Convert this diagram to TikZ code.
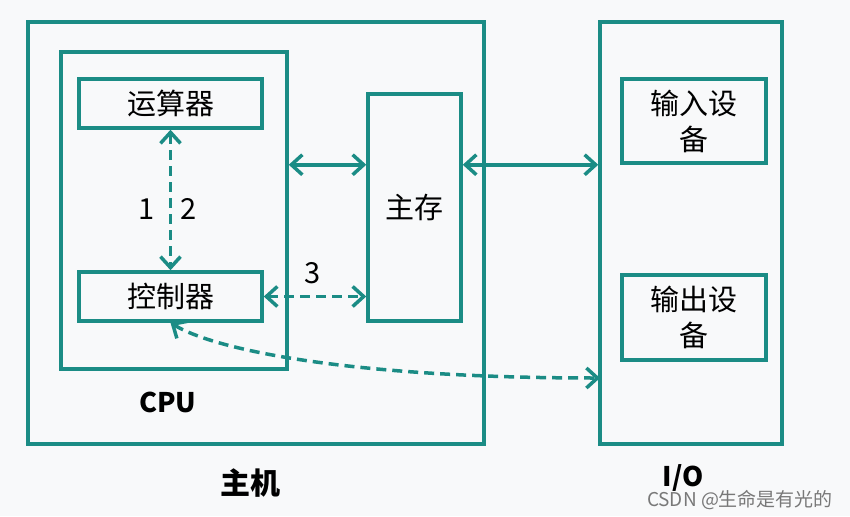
\documentclass[tikz,border=0pt]{standalone}
\usepackage{fontspec}
\setmainfont{Noto Sans CJK SC}
\usepackage{xcolor}
\usetikzlibrary{arrows.meta,positioning}
\definecolor{busteal}{RGB}{27,140,133}
\definecolor{pagebg}{RGB}{248,249,250}
\definecolor{markgray}{RGB}{120,120,120}

\begin{document}
\begin{tikzpicture}[
    x=1pt, y=-1pt,
    unit box/.style={draw=busteal, line width=3.5pt, rectangle, inner sep=0pt,
        align=center, font=\fontsize{29}{36}\selectfont},
    link/.style={busteal, line width=3.5pt, {Straight Barb[length=11pt,width=20pt]}-{Straight Barb[length=11pt,width=20pt]}},
    ctrl link/.style={link, dash pattern=on 10pt off 6pt},
    num label/.style={font=\fontsize{29}{32}\selectfont},
    box title/.style={font=\fontsize{27}{30}\selectfont\bfseries}
]

% Background
\fill[pagebg] (0,0) rectangle (850,516);

% === Host: CPU + main memory ===
\node[unit box, minimum width=456pt, minimum height=422pt] (host) at (256,233) {};
\node[unit box, minimum width=226pt, minimum height=317pt] (cpu) at (174,210.5) {};
\node[unit box, minimum width=183pt, minimum height=49pt] (alu) at (170.5,103.5) {运算器};
\node[unit box, minimum width=183pt, minimum height=49pt] (ctl) at (170.5,296.5) {控制器};
\node[unit box, minimum width=93pt, minimum height=227pt] (mem) at (414.5,207.5) {主存};

% === I/O ===
\node[unit box, minimum width=182pt, minimum height=422pt] (io) at (691,233) {};
\node[unit box, minimum width=144pt, minimum height=84pt] (in) at (694,121) {输入设\\备};
\node[unit box, minimum width=144pt, minimum height=85pt] (out) at (694,317.5) {输出设\\备};
\coordinate (ioctl) at (600,378);

% Titles
\node[box title] (cputitle) at (168,402) {CPU};
\node[box title, font=\fontsize{30}{32}\selectfont\bfseries] (hosttitle) at (250,483) {主机};
\node[box title] (iotitle) at (683,478) {I/O};

% Connections
\draw[ctrl link] (alu.south) -- (ctl.north);
\node[num label] (one) at (147,209) {1};
\node[num label] (two) at (189,209) {2};

\draw[link] (cpu.east |- in.south) -- (mem.west |- in.south);
\draw[link] (mem.east |- in.south) -- (io.west |- in.south);

\draw[ctrl link] (ctl.east) -- (ctl.east -| mem.west);
\node[num label] (three) at (313,273) {3};

\draw[ctrl link] (ctl.south) .. controls (215,350) and (350,378) .. (ioctl);

% Watermark
\node[markgray, font=\fontsize{19}{21}\selectfont] (mark) at (740,500) {CSDN @生命是有光的};

\end{tikzpicture}
\end{document}
